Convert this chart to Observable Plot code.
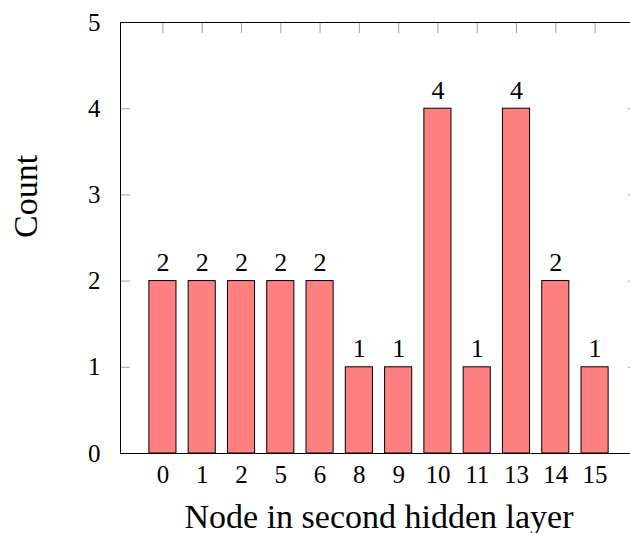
<!DOCTYPE html>
<html>
<head>
<meta charset="utf-8">
<script src="https://cdn.jsdelivr.net/npm/d3@7"></script>
<script src="https://cdn.jsdelivr.net/npm/@observablehq/plot@0.6"></script>
<style>
  html, body { margin: 0; padding: 0; background: #fff; overflow: hidden; }
  #chart { width: 630px; height: 533px; overflow: hidden; }
  #chart svg { max-width: none; }
</style>
</head>
<body>
<div id="chart"></div>
<script>
// Number of occurrences per node of the second hidden layer
const nodes = ["0", "1", "2", "5", "6", "8", "9", "10", "11", "13", "14", "15"];
const counts = [2, 2, 2, 2, 2, 1, 1, 4, 1, 4, 2, 1];
const yTicks = [0, 1, 2, 3, 4, 5];
const xLabel = "Node in second hidden layer";
const yLabel = "Count";

const data = nodes.map((node, i) => ({node, count: counts[i]}));
const font = "'Liberation Serif', serif";
const tickGray = "#a0a0a0";
const blank = () => "";

const chart = Plot.plot({
  width: 640,
  height: 533,
  marginLeft: 120,
  marginRight: 3,
  marginTop: 22,
  marginBottom: 80,
  style: {fontFamily: font, background: "#fff", color: "#000", maxWidth: "none"},
  x: {domain: nodes, paddingInner: 0.31, paddingOuter: 0.735, round: false},
  y: {domain: [0, 5]},
  marks: [
    // inward tick marks on all four sides
    Plot.axisY(yTicks, {anchor: "left", tickSize: 10, dx: 10, tickFormat: blank, stroke: tickGray, label: null}),
    Plot.axisY(yTicks, {anchor: "right", tickSize: 10, dx: -10, tickFormat: blank, stroke: tickGray, label: null}),
    Plot.axisX(nodes, {anchor: "top", tickSize: 10, dy: 10, tickFormat: blank, stroke: tickGray, label: null}),
    Plot.barY(data, {x: "node", y: "count", fill: "#ff8080", stroke: "#000", strokeWidth: 1}),
    Plot.text(data, {x: "node", y: "count", text: (d) => String(d.count), lineAnchor: "bottom", dy: -10, fontSize: 26, fill: "#000"}),
    Plot.frame({stroke: "#000", strokeWidth: 1}),
    // tick labels
    Plot.axisY(yTicks, {anchor: "left", tickSize: 0, tickPadding: 20, tickFormat: "d", fontSize: 25, label: null}),
    Plot.axisX({anchor: "bottom", tickSize: 0, tickPadding: 12, fontSize: 25, label: null}),
    // axis titles
    Plot.text([xLabel], {text: (d) => d, frameAnchor: "bottom", lineAnchor: "bottom", dy: 74, fontSize: 34, fill: "#000"}),
    Plot.text([yLabel], {text: (d) => d, frameAnchor: "left", rotate: -90, lineAnchor: "middle", dx: -94, fontSize: 34, fill: "#000"})
  ]
});

document.getElementById("chart").appendChild(chart);
</script>
</body>
</html>
